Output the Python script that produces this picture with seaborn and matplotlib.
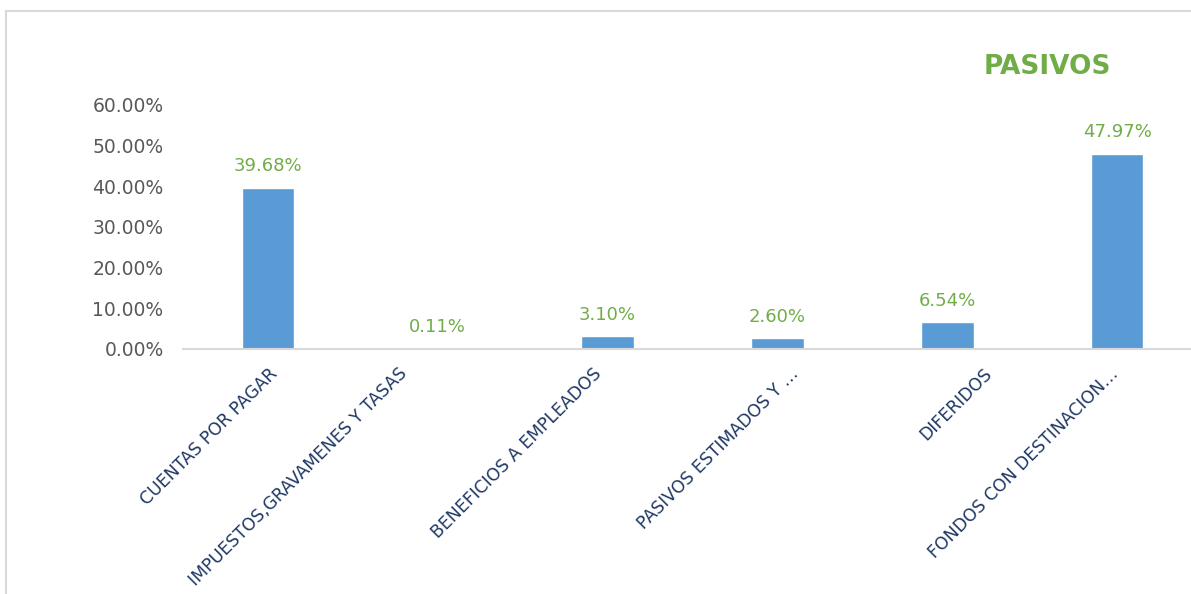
import matplotlib
matplotlib.use("Agg")
import matplotlib.pyplot as plt
import seaborn as sns
import pandas as pd
from matplotlib.lines import Line2D
from matplotlib.ticker import FuncFormatter
from matplotlib.transforms import ScaledTranslation

categories = ["CUENTAS POR PAGAR", "IMPUESTOS,GRAVAMENES Y TASAS", "BENEFICIOS A EMPLEADOS",
              "PASIVOS ESTIMADOS Y …", "DIFERIDOS", "FONDOS CON DESTINACION…"]
values = [39.68, 0.11, 3.10, 2.60, 6.54, 47.97]
yticks = [0, 10, 20, 30, 40, 50, 60]
title = "PASIVOS"

# horizontal nudges (px) of the rotated category labels, mimicking the original layout
label_nudge_px = [0, -40, -15, 12, 36, -8]

sns.set_theme(style="white")
plt.rcParams['font.family'] = ['DejaVu Sans']

BAR = "#5B9BD5"
GREEN = "#70AD47"
GRAY = "#595959"
NAVY = "#1F3864"

fig = plt.figure(figsize=(11.91, 5.94), dpi=100)
ax = fig.add_axes([183/1191, 1 - 349/594, 1 - 183/1191, (349 - 105)/594])

df = pd.DataFrame({"cat": categories, "val": values})
sns.barplot(data=df, x="cat", y="val", color=BAR, width=0.31, saturation=1, ax=ax)

ax.set_xlim(-0.5, 5.435)
ax.set_ylim(0, 60)
ax.set_yticks(yticks)
ax.yaxis.set_major_formatter(FuncFormatter(lambda v, p: f"{v:.2f}%"))
ax.tick_params(axis="y", colors=GRAY, labelsize=13.5, length=0, pad=14)
ax.tick_params(axis="x", length=0)
ax.set_xticks(range(len(categories)))
ax.set_xticklabels([""] * len(categories))
ax.set_xlabel("")
ax.set_ylabel("")
for s in ["top", "right", "left"]:
    ax.spines[s].set_visible(False)
ax.spines["bottom"].set_color("#D9D9D9")
ax.spines["bottom"].set_linewidth(1.5)
ax.grid(False)

for i, (lab, nx) in enumerate(zip(categories, label_nudge_px)):
    tr = ax.get_xaxis_transform() + ScaledTranslation(nx / 100, -15.5 / 100, fig.dpi_scale_trans)
    ax.text(i, 0, lab, transform=tr, rotation=45, ha="right", va="top",
            rotation_mode="anchor", color=NAVY, fontsize=12.4, clip_on=False)

for i, v in enumerate(values):
    ax.annotate(f"{v:.2f}%", (i, v), xytext=(0, 9), textcoords="offset points",
                ha="center", va="bottom", color=GREEN, fontsize=13, annotation_clip=False)

fig.text(1047/1191, 1 - 67/594, title, color=GREEN, fontsize=19, fontweight="bold",
         ha="center", va="center")

fig.add_artist(Line2D([6/1191, 6/1191], [0, 1 - 11/594], transform=fig.transFigure,
                      color="#D9D9D9", lw=1.5))
fig.add_artist(Line2D([6/1191, 1], [1 - 11/594, 1 - 11/594], transform=fig.transFigure,
                      color="#D9D9D9", lw=1.5))

fig.savefig("out.png", dpi=100, facecolor="white")
